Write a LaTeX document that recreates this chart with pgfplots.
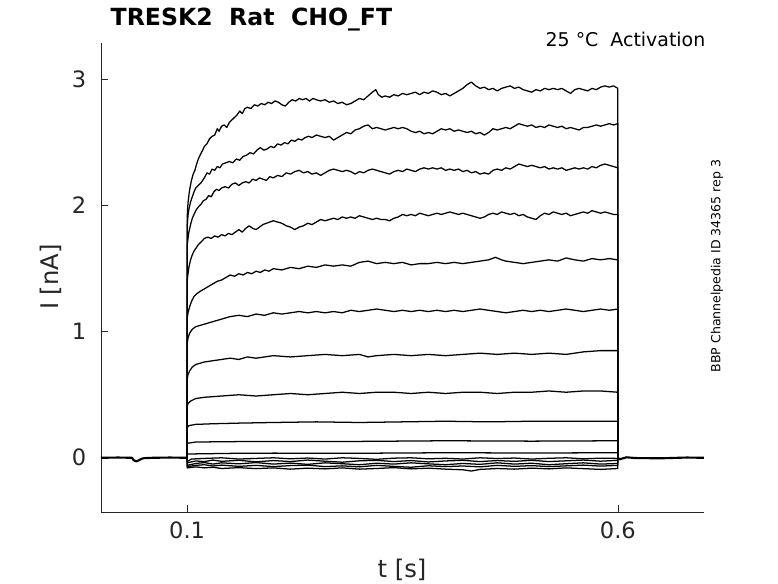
\documentclass[border=0pt]{standalone}
\usepackage{fontspec}
\setmainfont{DejaVu Sans}
\usepackage{pgfplots}
\pgfplotsset{compat=1.18}
\definecolor{axgray}{RGB}{38,38,38}
\definecolor{txtgray}{RGB}{38,38,38}
\pgfplotsset{tr/.style={black, mark=none, solid, line width=0.95pt, line join=round}}
\begin{document}
\begin{tikzpicture}[x=0.75pt,y=0.75pt]
\begin{axis}[
  scale only axis, width=452.25pt, height=351.75pt,
  xmin=0, xmax=0.7, ymin=-0.43, ymax=3.29,
  axis x line*=bottom, axis y line*=left,
  xtick={0.1,0.6}, ytick={0,1,2,3},
  tick align=inside, major tick length=5pt,
  tick style={axgray, line width=0.4pt},
  axis line style={axgray, line width=0.5pt, -},
  tick label style={font=\fontsize{16.9}{20}\selectfont, text=txtgray},
  /pgf/number format/assume math mode=true,
  yticklabel style={xshift=-7.5pt},
  xticklabel style={yshift=-4pt},
]
\coordinate (ll) at (rel axis cs:0,0);
% baseline before and after the step
\addplot[tr, line width=1.6pt] coordinates {(0,0.0) (0.02,0.002) (0.036,0.0) (0.038,-0.02) (0.041,-0.028) (0.044,-0.02) (0.047,-0.008) (0.05,-0.003) (0.06,0.0) (0.08,0.002) (0.1,0.0)};
\addplot[tr, line width=1.6pt] coordinates {(0.6,0.0) (0.602,-0.012) (0.61,0.004) (0.62,-0.002) (0.65,-0.004) (0.68,0.002) (0.7,0.0)};
% curve 1
\addplot[tr] coordinates {(0.1,0) (0.1,1.90) (0.1005,1.97) (0.101,2.02) (0.102,2.08) (0.103,2.13) (0.105,2.20) (0.107,2.25) (0.109,2.28) (0.111,2.33) (0.113,2.37) (0.115,2.40) (0.118,2.44) (0.12,2.47) (0.123,2.49) (0.126,2.53) (0.129,2.55) (0.132,2.56) (0.135,2.61) (0.137,2.59) (0.14,2.63) (0.143,2.64) (0.146,2.62) (0.149,2.66) (0.152,2.68) (0.155,2.70) (0.158,2.72) (0.161,2.75) (0.164,2.73) (0.167,2.77) (0.17,2.78) (0.174,2.77) (0.178,2.80) (0.182,2.79) (0.186,2.81) (0.19,2.80) (0.194,2.82) (0.198,2.81) (0.202,2.83) (0.206,2.82) (0.21,2.80) (0.214,2.79) (0.218,2.82) (0.222,2.84) (0.226,2.83) (0.23,2.85) (0.234,2.84) (0.238,2.85) (0.242,2.83) (0.246,2.85) (0.25,2.84) (0.255,2.83) (0.26,2.84) (0.265,2.82) (0.27,2.83) (0.275,2.81) (0.28,2.82) (0.285,2.80) (0.29,2.81) (0.295,2.83) (0.3,2.85) (0.305,2.84) (0.31,2.87) (0.315,2.90) (0.319,2.92) (0.322,2.88) (0.326,2.86) (0.33,2.87) (0.335,2.86) (0.34,2.88) (0.345,2.87) (0.35,2.89) (0.355,2.88) (0.36,2.89) (0.365,2.90) (0.37,2.88) (0.375,2.90) (0.38,2.89) (0.385,2.91) (0.39,2.90) (0.395,2.88) (0.4,2.89) (0.405,2.87) (0.41,2.89) (0.415,2.91) (0.42,2.93) (0.425,2.96) (0.43,2.98) (0.435,2.95) (0.44,2.93) (0.445,2.94) (0.45,2.92) (0.455,2.93) (0.46,2.91) (0.465,2.93) (0.47,2.94) (0.475,2.95) (0.48,2.93) (0.485,2.94) (0.49,2.92) (0.495,2.91) (0.5,2.90) (0.505,2.92) (0.51,2.91) (0.515,2.93) (0.52,2.92) (0.525,2.93) (0.53,2.92) (0.535,2.93) (0.54,2.91) (0.545,2.89) (0.55,2.92) (0.555,2.93) (0.56,2.92) (0.565,2.91) (0.57,2.93) (0.575,2.92) (0.58,2.94) (0.585,2.95) (0.59,2.94) (0.595,2.95) (0.6,2.93) (0.6,0)};
% curve 2
\addplot[tr] coordinates {(0.1,0) (0.1,1.82) (0.1005,1.88) (0.101,1.92) (0.102,1.97) (0.104,2.03) (0.106,2.07) (0.108,2.11) (0.11,2.14) (0.113,2.16) (0.116,2.18) (0.12,2.22) (0.123,2.26) (0.126,2.25) (0.129,2.29) (0.132,2.28) (0.135,2.31) (0.138,2.30) (0.141,2.33) (0.145,2.34) (0.149,2.35) (0.153,2.34) (0.157,2.37) (0.161,2.36) (0.165,2.39) (0.169,2.40) (0.173,2.42) (0.177,2.41) (0.181,2.44) (0.185,2.46) (0.189,2.44) (0.193,2.45) (0.197,2.47) (0.201,2.46) (0.205,2.49) (0.209,2.48) (0.213,2.50) (0.217,2.49) (0.221,2.52) (0.225,2.51) (0.229,2.53) (0.233,2.52) (0.237,2.54) (0.241,2.55) (0.245,2.54) (0.25,2.56) (0.255,2.55) (0.26,2.54) (0.265,2.55) (0.27,2.52) (0.275,2.54) (0.28,2.56) (0.285,2.58) (0.29,2.57) (0.295,2.60) (0.3,2.61) (0.305,2.63) (0.31,2.64) (0.315,2.61) (0.32,2.62) (0.325,2.61) (0.33,2.60) (0.335,2.61) (0.34,2.62) (0.345,2.61) (0.35,2.62) (0.355,2.61) (0.36,2.59) (0.365,2.58) (0.37,2.59) (0.375,2.57) (0.38,2.58) (0.385,2.57) (0.39,2.59) (0.395,2.61) (0.4,2.60) (0.405,2.61) (0.41,2.59) (0.415,2.60) (0.42,2.59) (0.425,2.58) (0.43,2.59) (0.435,2.57) (0.44,2.58) (0.445,2.56) (0.45,2.58) (0.455,2.61) (0.46,2.60) (0.465,2.61) (0.47,2.62) (0.475,2.61) (0.48,2.63) (0.485,2.65) (0.49,2.64) (0.495,2.63) (0.5,2.64) (0.505,2.62) (0.51,2.63) (0.515,2.62) (0.52,2.64) (0.525,2.63) (0.53,2.62) (0.535,2.63) (0.54,2.61) (0.545,2.62) (0.55,2.61) (0.555,2.60) (0.56,2.62) (0.565,2.62) (0.57,2.63) (0.575,2.64) (0.58,2.63) (0.585,2.64) (0.59,2.65) (0.595,2.64) (0.6,2.65) (0.6,0)};
% curve 3
\addplot[tr] coordinates {(0.1,0) (0.1,1.68) (0.101,1.74) (0.102,1.79) (0.104,1.85) (0.106,1.90) (0.108,1.93) (0.11,1.96) (0.113,1.99) (0.116,2.01) (0.119,2.04) (0.122,2.05) (0.125,2.08) (0.128,2.07) (0.131,2.11) (0.134,2.13) (0.137,2.12) (0.14,2.14) (0.144,2.15) (0.148,2.14) (0.152,2.17) (0.156,2.18) (0.16,2.16) (0.164,2.18) (0.168,2.19) (0.172,2.18) (0.176,2.21) (0.18,2.20) (0.184,2.22) (0.188,2.21) (0.192,2.20) (0.196,2.23) (0.2,2.22) (0.205,2.24) (0.21,2.23) (0.215,2.26) (0.22,2.25) (0.225,2.27) (0.23,2.28) (0.235,2.26) (0.24,2.27) (0.245,2.25) (0.25,2.26) (0.255,2.24) (0.26,2.26) (0.265,2.28) (0.27,2.29) (0.275,2.28) (0.28,2.27) (0.285,2.28) (0.29,2.27) (0.295,2.25) (0.3,2.27) (0.305,2.26) (0.31,2.28) (0.315,2.29) (0.32,2.28) (0.325,2.27) (0.33,2.26) (0.335,2.25) (0.34,2.27) (0.345,2.28) (0.35,2.27) (0.355,2.29) (0.36,2.28) (0.365,2.27) (0.37,2.29) (0.375,2.30) (0.38,2.29) (0.385,2.30) (0.39,2.29) (0.395,2.30) (0.4,2.28) (0.405,2.29) (0.41,2.28) (0.415,2.29) (0.42,2.27) (0.425,2.28) (0.43,2.26) (0.435,2.27) (0.44,2.25) (0.445,2.26) (0.45,2.25) (0.455,2.28) (0.46,2.29) (0.465,2.28) (0.47,2.30) (0.475,2.29) (0.48,2.31) (0.485,2.33) (0.49,2.32) (0.495,2.31) (0.5,2.32) (0.505,2.31) (0.51,2.30) (0.515,2.31) (0.52,2.29) (0.525,2.30) (0.53,2.29) (0.535,2.30) (0.54,2.28) (0.545,2.29) (0.55,2.30) (0.555,2.29) (0.56,2.30) (0.565,2.29) (0.57,2.31) (0.575,2.30) (0.58,2.32) (0.585,2.33) (0.59,2.32) (0.595,2.31) (0.6,2.30) (0.6,0)};
% curve 4
\addplot[tr] coordinates {(0.1,0) (0.1,1.40) (0.101,1.46) (0.102,1.51) (0.104,1.57) (0.106,1.61) (0.108,1.64) (0.11,1.66) (0.113,1.69) (0.116,1.71) (0.12,1.74) (0.124,1.75) (0.128,1.74) (0.132,1.76) (0.136,1.75) (0.14,1.77) (0.144,1.76) (0.148,1.78) (0.152,1.77) (0.156,1.79) (0.16,1.81) (0.164,1.79) (0.168,1.82) (0.172,1.84) (0.176,1.82) (0.18,1.81) (0.184,1.83) (0.188,1.85) (0.192,1.86) (0.196,1.87) (0.2,1.88) (0.205,1.87) (0.21,1.86) (0.215,1.84) (0.22,1.83) (0.225,1.81) (0.23,1.83) (0.235,1.84) (0.24,1.86) (0.245,1.85) (0.25,1.87) (0.255,1.89) (0.26,1.88) (0.265,1.89) (0.27,1.90) (0.275,1.89) (0.28,1.91) (0.285,1.90) (0.29,1.91) (0.295,1.90) (0.3,1.92) (0.305,1.91) (0.31,1.90) (0.315,1.89) (0.32,1.90) (0.325,1.89) (0.33,1.89) (0.335,1.88) (0.34,1.90) (0.345,1.91) (0.35,1.93) (0.355,1.92) (0.36,1.93) (0.365,1.92) (0.37,1.94) (0.375,1.93) (0.38,1.92) (0.385,1.93) (0.39,1.94) (0.395,1.93) (0.4,1.94) (0.405,1.95) (0.41,1.94) (0.415,1.93) (0.42,1.94) (0.425,1.93) (0.43,1.92) (0.435,1.91) (0.44,1.90) (0.445,1.91) (0.45,1.93) (0.455,1.94) (0.46,1.93) (0.465,1.95) (0.47,1.94) (0.475,1.93) (0.48,1.94) (0.485,1.92) (0.49,1.93) (0.495,1.91) (0.5,1.90) (0.505,1.89) (0.51,1.92) (0.515,1.94) (0.52,1.93) (0.525,1.95) (0.53,1.94) (0.535,1.93) (0.54,1.94) (0.545,1.92) (0.55,1.93) (0.555,1.94) (0.56,1.95) (0.565,1.94) (0.57,1.96) (0.575,1.95) (0.58,1.94) (0.585,1.95) (0.59,1.94) (0.595,1.93) (0.6,1.93) (0.6,0)};
% curve 5
\addplot[tr] coordinates {(0.1,0) (0.1,1.10) (0.101,1.15) (0.103,1.20) (0.105,1.24) (0.108,1.28) (0.111,1.30) (0.115,1.32) (0.12,1.34) (0.125,1.36) (0.13,1.38) (0.135,1.40) (0.14,1.41) (0.145,1.43) (0.15,1.45) (0.155,1.44) (0.16,1.46) (0.165,1.45) (0.17,1.47) (0.175,1.46) (0.18,1.48) (0.185,1.47) (0.19,1.49) (0.195,1.48) (0.2,1.50) (0.21,1.49) (0.22,1.51) (0.23,1.50) (0.24,1.52) (0.25,1.51) (0.26,1.53) (0.27,1.52) (0.28,1.53) (0.29,1.52) (0.3,1.55) (0.31,1.56) (0.32,1.54) (0.33,1.55) (0.34,1.54) (0.35,1.55) (0.36,1.53) (0.37,1.54) (0.38,1.54) (0.39,1.55) (0.4,1.54) (0.41,1.55) (0.42,1.54) (0.43,1.55) (0.44,1.56) (0.45,1.57) (0.458,1.59) (0.465,1.57) (0.47,1.56) (0.48,1.55) (0.49,1.54) (0.5,1.55) (0.51,1.56) (0.52,1.57) (0.53,1.56) (0.54,1.585) (0.55,1.57) (0.56,1.56) (0.57,1.58) (0.58,1.57) (0.59,1.58) (0.6,1.57) (0.6,0)};
% curve 6
\addplot[tr] coordinates {(0.1,0) (0.1,0.90) (0.101,0.95) (0.103,0.99) (0.106,1.02) (0.11,1.04) (0.12,1.06) (0.13,1.08) (0.14,1.10) (0.15,1.12) (0.16,1.13) (0.17,1.12) (0.18,1.14) (0.19,1.13) (0.2,1.15) (0.21,1.14) (0.22,1.15) (0.23,1.16) (0.24,1.15) (0.25,1.16) (0.26,1.15) (0.27,1.16) (0.28,1.15) (0.29,1.17) (0.3,1.16) (0.31,1.17) (0.32,1.18) (0.33,1.17) (0.34,1.16) (0.35,1.17) (0.36,1.16) (0.37,1.17) (0.38,1.16) (0.39,1.17) (0.4,1.16) (0.41,1.17) (0.42,1.16) (0.43,1.17) (0.44,1.18) (0.45,1.17) (0.46,1.16) (0.47,1.15) (0.48,1.16) (0.49,1.17) (0.5,1.16) (0.51,1.17) (0.52,1.16) (0.53,1.17) (0.54,1.18) (0.55,1.17) (0.56,1.16) (0.57,1.17) (0.58,1.18) (0.59,1.17) (0.6,1.18) (0.6,0)};
% curve 7
\addplot[tr] coordinates {(0.1,0) (0.1,0.62) (0.101,0.66) (0.103,0.69) (0.106,0.72) (0.11,0.74) (0.12,0.76) (0.13,0.77) (0.14,0.78) (0.15,0.79) (0.16,0.78) (0.17,0.80) (0.18,0.79) (0.19,0.80) (0.2,0.81) (0.22,0.80) (0.24,0.81) (0.26,0.82) (0.28,0.81) (0.3,0.82) (0.31,0.80) (0.32,0.81) (0.34,0.82) (0.36,0.81) (0.38,0.82) (0.4,0.81) (0.42,0.82) (0.44,0.83) (0.46,0.82) (0.48,0.83) (0.5,0.82) (0.52,0.83) (0.54,0.82) (0.56,0.84) (0.58,0.85) (0.6,0.85) (0.6,0)};
% curve 8
\addplot[tr] coordinates {(0.1,0) (0.1,0.41) (0.101,0.43) (0.104,0.45) (0.11,0.47) (0.12,0.48) (0.14,0.49) (0.16,0.50) (0.18,0.49) (0.2,0.50) (0.22,0.51) (0.24,0.50) (0.26,0.51) (0.28,0.52) (0.3,0.51) (0.32,0.52) (0.34,0.52) (0.36,0.51) (0.38,0.52) (0.4,0.51) (0.42,0.52) (0.44,0.52) (0.46,0.51) (0.48,0.52) (0.5,0.52) (0.52,0.53) (0.54,0.52) (0.56,0.53) (0.58,0.53) (0.6,0.52) (0.6,0)};
% curve 9
\addplot[tr] coordinates {(0.1,0) (0.1,0.24) (0.102,0.255) (0.11,0.265) (0.13,0.27) (0.16,0.275) (0.2,0.28) (0.25,0.285) (0.3,0.28) (0.35,0.285) (0.4,0.29) (0.45,0.285) (0.5,0.29) (0.55,0.29) (0.6,0.29) (0.6,0)};
% curve 10
\addplot[tr] coordinates {(0.1,0) (0.1,0.115) (0.11,0.125) (0.15,0.128) (0.2,0.13) (0.3,0.13) (0.4,0.135) (0.5,0.132) (0.6,0.135) (0.6,0)};
% curve 11
\addplot[tr] coordinates {(0.1,0) (0.1,0.03) (0.15,0.035) (0.2,0.037) (0.3,0.036) (0.4,0.04) (0.5,0.038) (0.6,0.04) (0.6,0)};
% near-zero and negative traces
\addplot[tr] coordinates {(0.1,0) (0.1,-0.03) (0.105,-0.01) (0.12,-0.005) (0.14,0.0) (0.16,-0.01) (0.18,-0.005) (0.2,0.0) (0.22,-0.008) (0.24,-0.002) (0.26,-0.01) (0.28,0.0) (0.3,-0.005) (0.32,-0.012) (0.34,-0.003) (0.36,0.0) (0.38,-0.008) (0.4,-0.004) (0.42,-0.01) (0.44,0.0) (0.46,-0.006) (0.48,-0.002) (0.5,-0.01) (0.52,-0.004) (0.54,0.0) (0.56,-0.008) (0.58,-0.003) (0.6,-0.005) (0.6,0)};
\addplot[tr] coordinates {(0.1,0) (0.1,-0.04) (0.11,-0.025) (0.12,-0.03) (0.13,-0.018) (0.14,-0.028) (0.16,-0.02) (0.18,-0.032) (0.2,-0.022) (0.22,-0.03) (0.24,-0.018) (0.26,-0.027) (0.28,-0.035) (0.3,-0.024) (0.32,-0.02) (0.34,-0.03) (0.36,-0.022) (0.38,-0.033) (0.4,-0.025) (0.42,-0.02) (0.44,-0.03) (0.46,-0.022) (0.48,-0.028) (0.5,-0.02) (0.52,-0.03) (0.54,-0.024) (0.56,-0.018) (0.58,-0.027) (0.6,-0.02) (0.6,0)};
\addplot[tr] coordinates {(0.1,0) (0.1,-0.06) (0.11,-0.045) (0.12,-0.038) (0.13,-0.05) (0.14,-0.04) (0.16,-0.048) (0.18,-0.038) (0.2,-0.05) (0.22,-0.042) (0.24,-0.052) (0.26,-0.04) (0.28,-0.047) (0.3,-0.055) (0.32,-0.043) (0.34,-0.05) (0.36,-0.04) (0.38,-0.048) (0.4,-0.055) (0.42,-0.045) (0.44,-0.052) (0.46,-0.04) (0.48,-0.05) (0.5,-0.043) (0.52,-0.055) (0.54,-0.047) (0.56,-0.04) (0.58,-0.05) (0.6,-0.045) (0.6,0)};
\addplot[tr] coordinates {(0.1,0) (0.1,-0.07) (0.11,-0.06) (0.12,-0.055) (0.13,-0.065) (0.14,-0.058) (0.16,-0.068) (0.18,-0.06) (0.2,-0.07) (0.22,-0.062) (0.24,-0.058) (0.26,-0.07) (0.28,-0.064) (0.3,-0.072) (0.32,-0.06) (0.34,-0.068) (0.36,-0.075) (0.38,-0.063) (0.4,-0.07) (0.42,-0.065) (0.44,-0.072) (0.46,-0.06) (0.48,-0.068) (0.5,-0.062) (0.52,-0.07) (0.54,-0.064) (0.56,-0.058) (0.58,-0.066) (0.6,-0.06) (0.6,0)};
\addplot[tr] coordinates {(0.1,0) (0.1,-0.08) (0.11,-0.072) (0.12,-0.08) (0.13,-0.075) (0.14,-0.085) (0.16,-0.078) (0.18,-0.086) (0.2,-0.08) (0.22,-0.09) (0.24,-0.082) (0.26,-0.088) (0.28,-0.08) (0.3,-0.09) (0.32,-0.085) (0.34,-0.078) (0.36,-0.088) (0.38,-0.082) (0.4,-0.09) (0.42,-0.095) (0.43,-0.105) (0.44,-0.092) (0.46,-0.085) (0.48,-0.09) (0.5,-0.082) (0.52,-0.088) (0.54,-0.08) (0.56,-0.086) (0.58,-0.092) (0.6,-0.085) (0.6,0)};
\end{axis}
\path[use as bounding box] ([shift={(-101,-71)}]ll) rectangle ([shift={(677,512)}]ll);
\node[anchor=base west, font=\bfseries\fontsize{17.7}{21}\selectfont] at ([shift={(5,486)}]ll) {TRESK2\ \ Rat\ \ CHO\_FT};
\node[anchor=base east, font=\fontsize{14.2}{17}\selectfont] at ([shift={(609,465)}]ll) {25 °C\ \ Activation};
\node[rotate=90, font=\fontsize{9.4}{11}\selectfont] at ([shift={(616,246)}]ll) {BBP Channelpedia ID 34365 rep 3};
\node[anchor=base, font=\fontsize{18.2}{22}\selectfont, text=txtgray] at ([shift={(301,-65.5)}]ll) {t [s]};
\node[rotate=90, font=\fontsize{18.2}{22}\selectfont, text=txtgray] at ([shift={(-50,235)}]ll) {I [nA]};
\end{tikzpicture}
\end{document}
